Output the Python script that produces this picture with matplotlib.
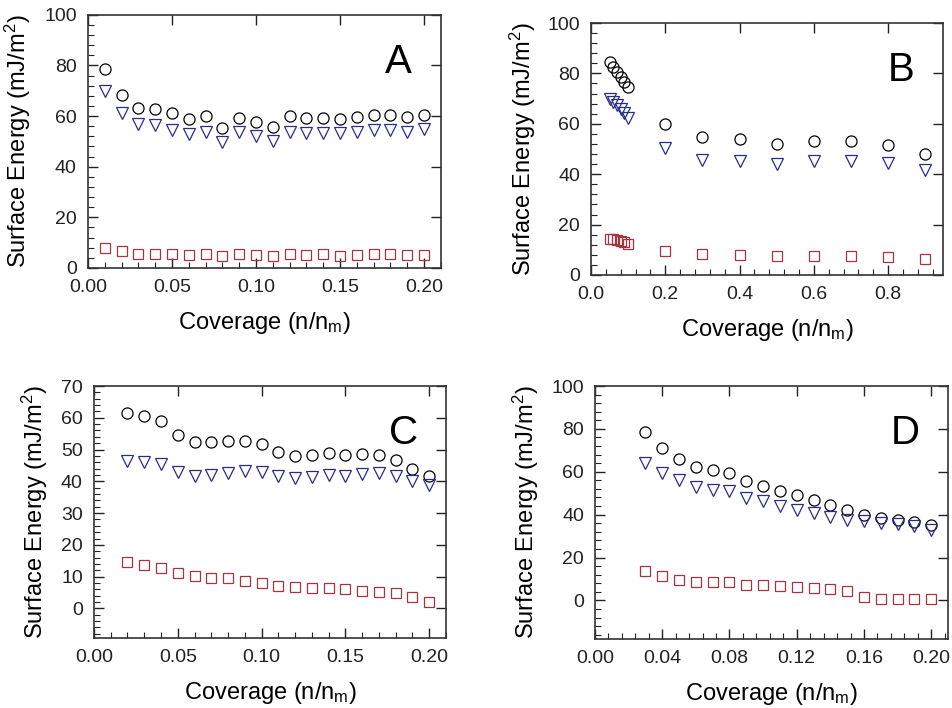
import numpy as np
import matplotlib
matplotlib.use('Agg')
import matplotlib.pyplot as plt
from matplotlib.ticker import MultipleLocator, AutoMinorLocator

plt.rcParams['font.family'] = ['Liberation Sans', 'DejaVu Sans']
plt.rcParams['mathtext.fontset'] = 'custom'
plt.rcParams['mathtext.rm'] = 'Liberation Sans'
plt.rcParams['mathtext.it'] = 'Liberation Sans'

# --- panel A ---
xa = [0.01, 0.02, 0.03, 0.04, 0.05, 0.06, 0.07, 0.08, 0.09, 0.10,
      0.11, 0.12, 0.13, 0.14, 0.15, 0.16, 0.17, 0.18, 0.19, 0.20]
a_tot = [78.8, 68.5, 63.1, 62.8, 61.1, 58.8, 59.9, 55.4, 59.4, 57.7,
         55.7, 59.9, 59.2, 59.1, 58.7, 59.5, 60.4, 60.6, 59.6, 60.6]
a_disp = [70.1, 61.1, 56.9, 56.3, 54.7, 52.8, 53.7, 49.9, 53.7, 52.1,
          50.1, 53.7, 53.2, 53.2, 53.2, 53.7, 54.5, 54.5, 53.7, 55.0]
a_ab = [8.0, 6.7, 5.7, 5.7, 5.7, 5.3, 5.4, 4.6, 5.4, 5.0,
        4.6, 5.4, 5.1, 5.4, 4.9, 5.1, 5.4, 5.4, 5.0, 5.0]

# --- panel B ---
xb = [0.05, 0.06, 0.07, 0.08, 0.09, 0.10, 0.2, 0.3, 0.4, 0.5, 0.6, 0.7, 0.8, 0.9]
b_tot = [84.6, 82.7, 80.7, 78.7, 76.7, 74.7, 60.1, 54.8, 54.0, 51.8, 53.3, 53.3, 51.5, 48.2]
b_disp = [70.0, 68.6, 67.3, 65.8, 64.2, 62.5, 50.5, 45.8, 45.3, 44.0, 45.3, 45.3, 44.3, 41.7]
b_ab = [14.4, 14.1, 13.7, 13.3, 13.0, 12.3, 9.6, 8.3, 8.1, 7.7, 7.7, 7.4, 7.0, 6.3]

# --- panel C ---
xc = [0.02, 0.03, 0.04, 0.05, 0.06, 0.07, 0.08, 0.09, 0.10, 0.11,
      0.12, 0.13, 0.14, 0.15, 0.16, 0.17, 0.18, 0.19, 0.20]
c_tot = [61.5, 60.5, 58.9, 54.5, 52.3, 52.3, 52.8, 52.7, 51.8, 49.3,
         48.0, 48.2, 49.0, 48.2, 48.5, 48.4, 46.6, 44.0, 41.7]
c_disp = [46.3, 46.1, 45.6, 42.8, 41.7, 41.9, 42.6, 43.4, 42.8, 41.6,
          40.9, 41.4, 41.9, 41.7, 42.4, 42.6, 41.6, 40.0, 39.0]
c_ab = [14.5, 13.7, 12.6, 11.0, 10.2, 9.6, 9.6, 8.6, 8.1, 7.2,
        6.6, 6.4, 6.5, 6.0, 5.4, 5.3, 4.7, 3.7, 2.1]

# --- panel D ---
xd = [0.03, 0.04, 0.05, 0.06, 0.07, 0.08, 0.09, 0.10, 0.11,
      0.12, 0.13, 0.14, 0.15, 0.16, 0.17, 0.18, 0.19, 0.20]
d_tot = [78.4, 70.9, 66.0, 62.2, 60.6, 59.5, 55.7, 53.5, 50.9,
         49.0, 46.8, 44.3, 42.3, 39.7, 38.3, 37.7, 36.6, 35.0]
d_disp = [64.3, 59.2, 56.0, 52.9, 51.6, 50.9, 47.8, 46.2, 43.9,
          42.3, 40.8, 38.9, 37.7, 37.0, 36.0, 35.5, 34.5, 33.0]
d_ab = [13.6, 11.3, 9.6, 8.8, 8.4, 8.4, 7.4, 7.1, 6.7,
        6.4, 5.7, 5.1, 4.2, 1.7, 0.8, 0.8, 0.5, 0.5]

fig = plt.figure(figsize=(9.52, 7.08), dpi=100)

panels = [
    # letter, x, series, rect, xlim, ylim, xmajor, ymajor, xfmt, ylabel x
    ('A', xa, (a_tot, a_disp, a_ab), [0.0924, 0.6215, 0.3706, 0.3575], (0, 0.21), (0, 100), 0.05, 20, '%.2f', -0.156),
    ('B', xb, (b_tot, b_disp, b_ab), [0.6208, 0.6116, 0.3698, 0.3559], (0, 0.948), (0, 100), 0.2, 20, '%.1f', -0.15),
    ('C', xc, (c_tot, c_disp, c_ab), [0.0987, 0.0989, 0.3698, 0.3559], (0, 0.21), (-9.3, 70), 0.05, 10, '%.2f', -0.125),
    ('D', xd, (d_tot, d_disp, d_ab), [0.6250, 0.0975, 0.3708, 0.3573], (0, 0.21), (-18, 100), 0.04, 20, '%.2f', -0.153),
]

for letter, x, (tot, disp, ab), rect, xl, yl, xmaj, ymaj, fmt, ylx in panels:
    ax = fig.add_axes(rect)
    ax.plot(x, tot, 'o', ms=8, mfc='none', mec='black', mew=0.9)
    ax.plot(x, disp, 'v', ms=8.5, mfc='none', mec='#2b2b8a', mew=0.9)
    ax.plot(x, ab, 's', ms=7.5, mfc='none', mec='#a8323e', mew=0.9)
    ax.set_xlim(*xl)
    ax.set_ylim(*yl)
    ax.xaxis.set_major_locator(MultipleLocator(xmaj))
    ax.yaxis.set_major_locator(MultipleLocator(ymaj))
    ax.xaxis.set_minor_locator(AutoMinorLocator(5))
    ax.yaxis.set_minor_locator(AutoMinorLocator(5))
    ax.xaxis.set_major_formatter(matplotlib.ticker.FormatStrFormatter(fmt))
    ax.tick_params(which='major', direction='in', length=7, width=1, labelsize=14,
                   top=True, right=True, colors='#222222', pad=8)
    ax.tick_params(which='minor', direction='in', length=4, width=0.8, colors='#222222')
    ax.tick_params(axis='x', which='minor', top=False)
    ax.tick_params(axis='y', which='minor', right=False)
    for s in ax.spines.values():
        s.set_linewidth(1.2)
        s.set_color('#333333')
    ax.set_xlabel(r'Coverage (n/n$_\mathrm{m}$)', fontsize=17, labelpad=10)
    ax.set_ylabel(r'Surface Energy (mJ/m$^2$)', fontsize=17)
    ax.yaxis.set_label_coords(ylx, 0.5)
    ax.text(0.88, 0.815, letter, transform=ax.transAxes, fontsize=29,
            ha='center', va='center')

plt.savefig('out.png', dpi=100)
